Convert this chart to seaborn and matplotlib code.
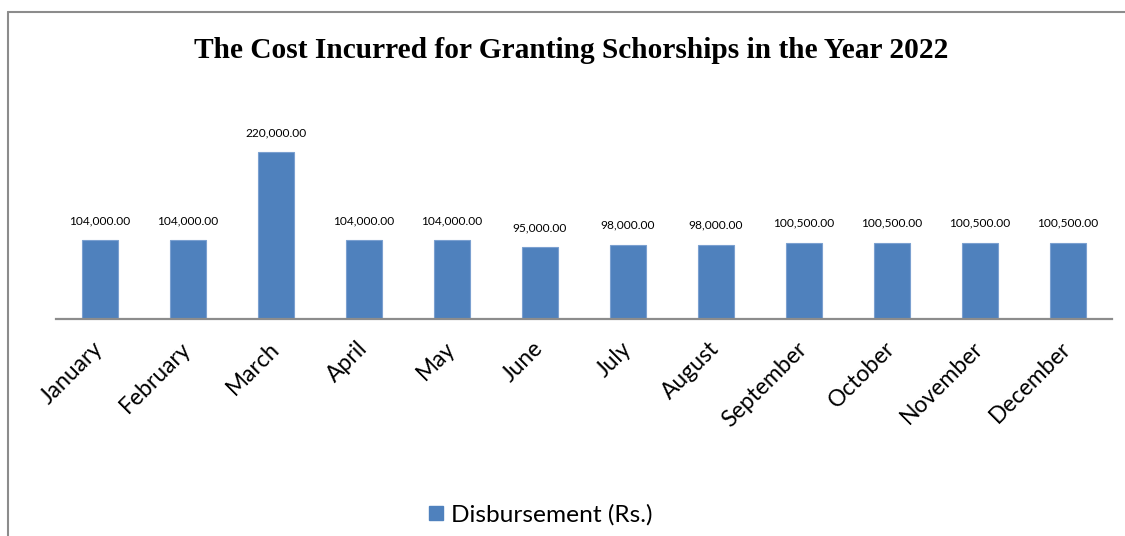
import matplotlib
matplotlib.use("Agg")
import matplotlib.pyplot as plt
import seaborn as sns
import pandas as pd
from matplotlib.lines import Line2D
from matplotlib.patches import Patch

months = ["January", "February", "March", "April", "May", "June",
          "July", "August", "September", "October", "November", "December"]
disbursement = [104000, 104000, 220000, 104000, 104000, 95000,
                98000, 98000, 100500, 100500, 100500, 100500]
series_name = "Disbursement (Rs.)"
title = "The Cost Incurred for Granting Schorships in the Year 2022"

df = pd.DataFrame({"Month": months, "Value": disbursement})

sns.set_style("white")
plt.rcParams["font.family"] = ["Lato", "DejaVu Sans"]
plt.rcParams["text.color"] = "black"

W, H = 1125, 536
fig = plt.figure(figsize=(W / 100, H / 100), dpi=100)

# plot area in pixel terms: x 56..1112, baseline at y=319, 220000 -> y=152
left, right, base, top = 56, 1112, 319, 100
ax = fig.add_axes([left / W, 1 - base / H, (right - left) / W, (base - top) / H])

BLUE = "#4F81BD"
sns.barplot(data=df, x="Month", y="Value", color=BLUE, width=0.4,
            saturation=1, edgecolor="#7BA0D0", linewidth=0.8, ax=ax)

ax.set_xlim(-0.5, len(months) - 0.5)
ax.set_ylim(0, 220000 * (base - top) / (base - 152))

for i, v in enumerate(disbursement):
    ax.annotate(f"{v:,.2f}", (i, v), xytext=(0, 10), textcoords="offset points",
                ha="center", va="bottom", fontsize=8.6, color="black")

sns.despine(ax=ax, left=True, top=True, right=True)
ax.spines["bottom"].set_color("#8C8C8C")
ax.spines["bottom"].set_linewidth(1.6)
ax.set_yticks([])
ax.set_xlabel("")
ax.set_ylabel("")
ax.tick_params(axis="x", length=0, pad=19)
plt.setp(ax.get_xticklabels(), rotation=45, ha="right", va="center",
         rotation_mode="anchor", fontsize=16.5, color="black")

fig.text(571 / W, 1 - 51 / H, title, ha="center", va="center", color="black",
         fontsize=21.2, fontweight="bold", family="Liberation Serif")

fig.legend(handles=[Patch(facecolor=BLUE, edgecolor=BLUE)], labels=[series_name],
           loc="center", bbox_to_anchor=(541 / W, 1 - 515 / H), frameon=False,
           fontsize=17.6, handlelength=0.55, handleheight=0.55, handletextpad=0.35)

# chart frame (left and top edges visible)
fig.add_artist(Line2D([8 / W, 8 / W], [0, 1 - 12 / H], color="#8C8C8C", lw=1.5))
fig.add_artist(Line2D([8 / W, 1], [1 - 12 / H, 1 - 12 / H], color="#8C8C8C", lw=1.5))

fig.savefig("out.png", dpi=100)
plt.close(fig)
